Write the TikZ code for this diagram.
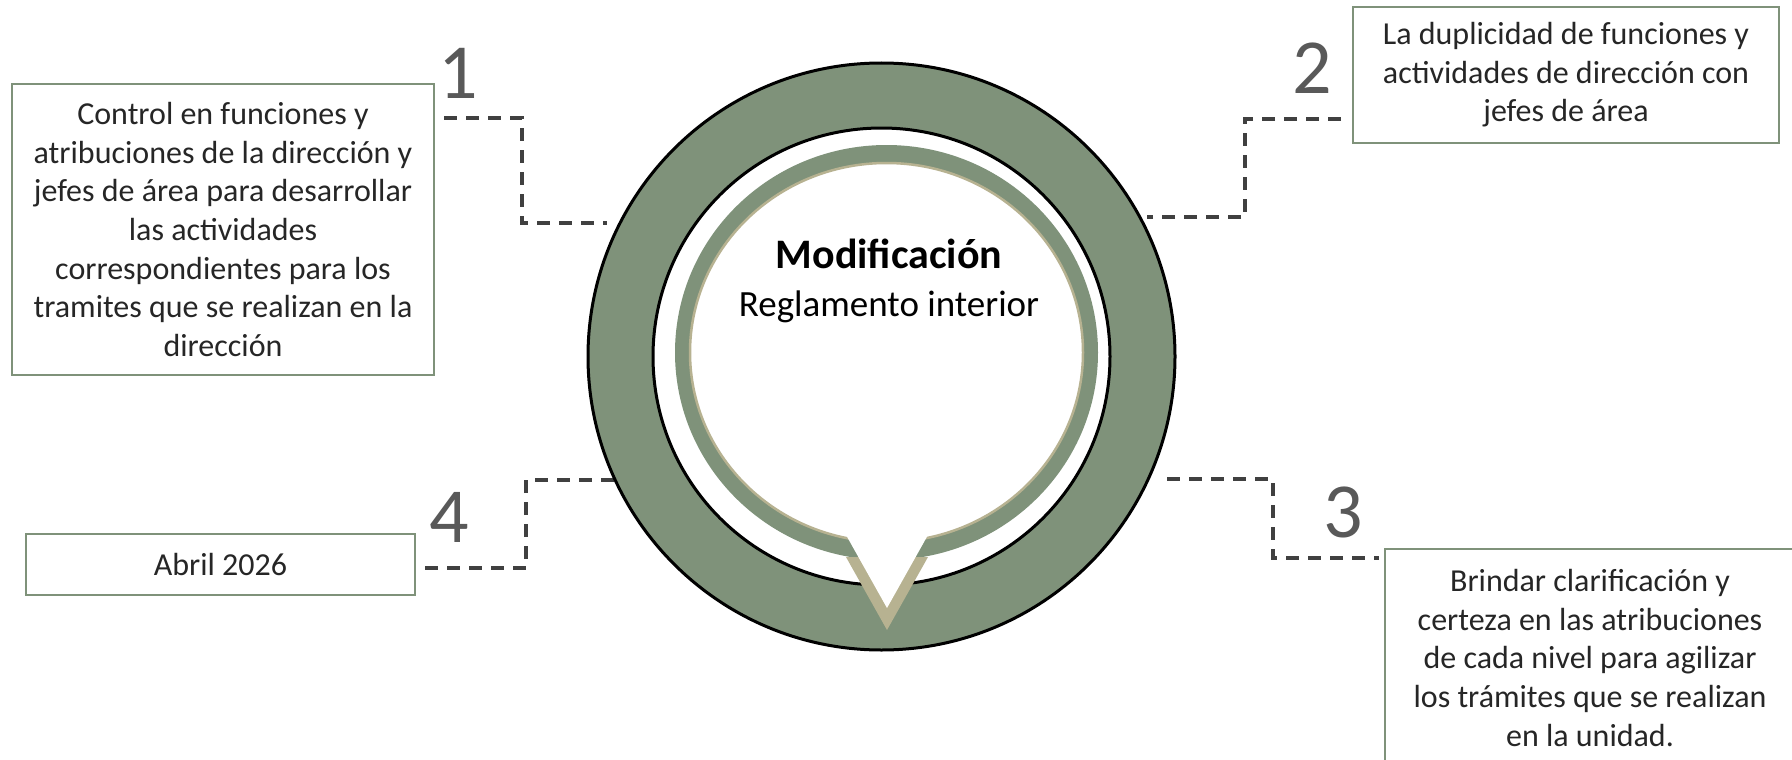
\documentclass[tikz,border=0pt]{standalone}
\usepackage{fontspec}
\setmainfont{Carlito}
\definecolor{sage}{HTML}{7F927A}
\definecolor{sand}{HTML}{B7B291}
\definecolor{ink}{HTML}{262626}
\definecolor{digit}{HTML}{595959}
\definecolor{dashgray}{HTML}{404040}

\begin{document}
\begin{tikzpicture}[x=1pt,y=-1pt,
    box/.style={draw=sage, line width=2pt, fill=white, inner sep=0pt, align=center,
      text=ink, font=\fontsize{32}{38.6}\selectfont},
    num/.style={text=digit, inner sep=0pt, font=\fontsize{78}{78}\selectfont},
    link/.style={draw=dashgray, line width=3.2pt, dash pattern=on 13pt off 9pt}]
  \clip (0,0) rectangle (1792,760);
  \fill[white] (0,0) rectangle (1792,760);
  % boxes round the ring
  \node[box, minimum width=422pt, minimum height=291pt] (b1) at (223,229.5)
    {Control en funciones y\\atribuciones de la dirección y\\jefes de área para desarrollar\\las actividades\\correspondientes para los\\tramites que se realizan en la\\dirección};
  \node[box, minimum width=426pt, minimum height=135pt] (b2) at (1566,75)
    {La duplicidad de funciones y\\actividades de dirección con\\jefes de área};
  \node[box, minimum width=410pt, minimum height=218pt] (b3) at (1590,658)
    {Brindar clarificación y\\certeza en las atribuciones\\de cada nivel para agilizar\\los trámites que se realizan\\en la unidad.};
  \node[box, minimum width=389pt, minimum height=61pt] (b4) at (220.5,564.5) {Abril 2026};
  % numbers
  \node[num] (n1) at (458,73) {1};
  \node[num] (n2) at (1312,68) {2};
  \node[num] (n3) at (1343,512) {3};
  \node[num] (n4) at (449,517) {4};
  % dashed elbows
  \coordinate (p1) at (607,223);
  \coordinate (p2) at (1147,217);
  \coordinate (p3) at (1167,479);
  \coordinate (p4) at (617,480);
  \draw[link, shorten <=9pt] (b1.east |- 0,118) -- ++(87,0) |- (p1);
  \draw[link, shorten <=11pt] (b2.west |- 0,119) -- ++(-107,0) |- (p2);
  \draw[link, shorten >=5pt] (p3) -- ++(106,0) |- (b3.west |- 0,558);
  \draw[link, shorten <=9pt] (b4.east |- 0,568) -- ++(110,0) |- (p4);
  % ring and callout
  \coordinate (hub) at (881.5,356.5);
  \filldraw[fill=sage, draw=black, line width=3pt] (hub) circle[radius=293.5pt];
  \filldraw[fill=white, draw=black, line width=3pt] (hub) circle[radius=228.5pt];
  \fill[sage] (886.5,352.5) ellipse[x radius=211.5pt, y radius=207.5pt];
  \filldraw[fill=white, draw=sand, line width=2.5pt] (886.5,352.5) ellipse[x radius=196.5pt, y radius=189.5pt];
  \fill[sand] (846,557) -- (928,557) -- (887,630) -- cycle;
  \fill[white] (846.6,536) -- (927.4,536) -- (887,608) -- cycle;
  % title
  \node[anchor=base, inner sep=0pt, font=\fontsize{42}{42}\selectfont\bfseries] (mod) at (889,268) {Modificación};
  \node[anchor=base, inner sep=0pt, font=\fontsize{37}{37}\selectfont] (reg) at (889,316) {Reglamento interior};
\end{tikzpicture}
\end{document}
